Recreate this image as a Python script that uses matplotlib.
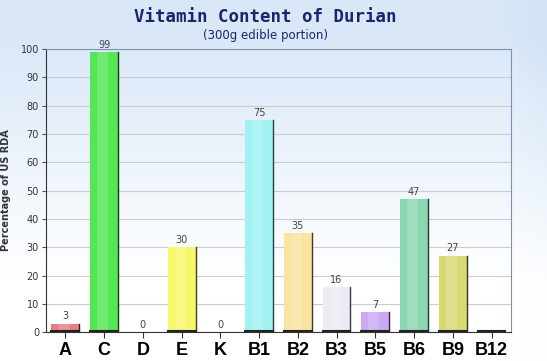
import numpy as np
import matplotlib.pyplot as plt
from matplotlib.colors import to_rgb

# vitamin content of durian, % of US RDA
vitamins = ['A', 'C', 'D', 'E', 'K', 'B1', 'B2', 'B3', 'B5', 'B6', 'B9', 'B12']
values = [3, 99, 0, 30, 0, 75, 35, 16, 7, 47, 27, 0]
value_labels = ['3', '99', '0', '30', '0', '75', '35', '16', '7', '47', '27', '']
colors = ['#ec7c7c', '#55e655', '#f0f0f0', '#f7f76a', '#f0f0f0', '#a0f3f3',
          '#fbe3a0', '#ececf4', '#c9aaf2', '#8ad8b2', '#d9d873', '#d0d0d0']

fig = plt.figure(figsize=(5.47, 3.61), dpi=100)

# background gradient (light blue at top to white)
bg = fig.add_axes([0, 0, 1, 1], zorder=-10)
h, w = 200, 200
yy = np.linspace(1, 0, h)[:, None]
xx = np.linspace(0, 1, w)[None, :]
t = np.clip(yy * 1.5 - 0.35, 0, 1) * 0.8 + np.clip(xx - 0.92, 0, 1) * 1.8 * np.clip(yy + 0.2, 0, 1)
t = np.clip(t, 0, 1)
top = np.array(to_rgb('#d0e2f6'))
img = (1 - t[..., None]) * np.array([1, 1, 1]) + t[..., None] * top
bg.imshow(img, aspect='auto', extent=[0, 1, 0, 1], origin='upper')
bg.axis('off')

ax = fig.add_axes([0.084, 0.08, 0.85, 0.784])
ax.set_facecolor('none')

x = np.arange(len(vitamins))
width = 0.72
ax.bar(x, values, width=width, color=colors, zorder=3, linewidth=0)

# darker right edge, bottom line and lighter centre like the original shading
for xi, v, c in zip(x, values, colors):
    rgb = np.array(to_rgb(c))
    if v > 0:
        ax.plot([xi + width / 2, xi + width / 2], [0, v], color=tuple(rgb * 0.25), lw=1.0, zorder=4)
        ax.plot([xi - width / 2, xi + width / 2], [0.3, 0.3], color='#222222', lw=1.5, zorder=4)
        ax.bar(xi - width * 0.05, v, width=width * 0.4,
               color=tuple(rgb * 0.5 + 0.5), alpha=0.35, zorder=3.5, linewidth=0)

for xi, v, lab in zip(x, values, value_labels):
    if lab:
        ax.text(xi, v + 0.8, lab, ha='center', va='bottom', fontsize=7,
                color='#444444', zorder=5)
ax.plot([x[-1] - width / 2, x[-1] + width / 2], [0.3, 0.3], color='#222222', lw=1.5, zorder=4)

ax.set_xlim(-0.5, len(vitamins) - 0.5)
ax.set_ylim(0, 100)
ax.set_yticks(range(0, 101, 10))
ax.set_xticks(x)
ax.set_xticklabels(vitamins, fontsize=13, fontweight='bold', family='Liberation Sans')
ax.tick_params(axis='x', length=4, pad=3, color='#333333')
ax.tick_params(axis='y', length=3, pad=2, labelsize=7, labelcolor='#333333', color='#555555')
ax.grid(axis='y', color='#cccccc', lw=0.8, zorder=0)

ax.spines['left'].set_color('#333333')
ax.spines['bottom'].set_color('#333333')
ax.spines['top'].set_color('#8090b0')
ax.spines['right'].set_color('#8090b0')

ax.set_ylabel('Percentage of US RDA', fontsize=7, fontweight='bold', color='#333333', labelpad=7)

fig.text(0.485, 0.953, 'Vitamin Content of Durian', ha='center', va='center',
         fontsize=12.5, fontweight='bold', family='DejaVu Sans Mono', color='#1a2570')
fig.text(0.485, 0.903, '(300g edible portion)', ha='center', va='center',
         fontsize=8.5, color='#1a2570')

fig.savefig('out.png', dpi=100)
